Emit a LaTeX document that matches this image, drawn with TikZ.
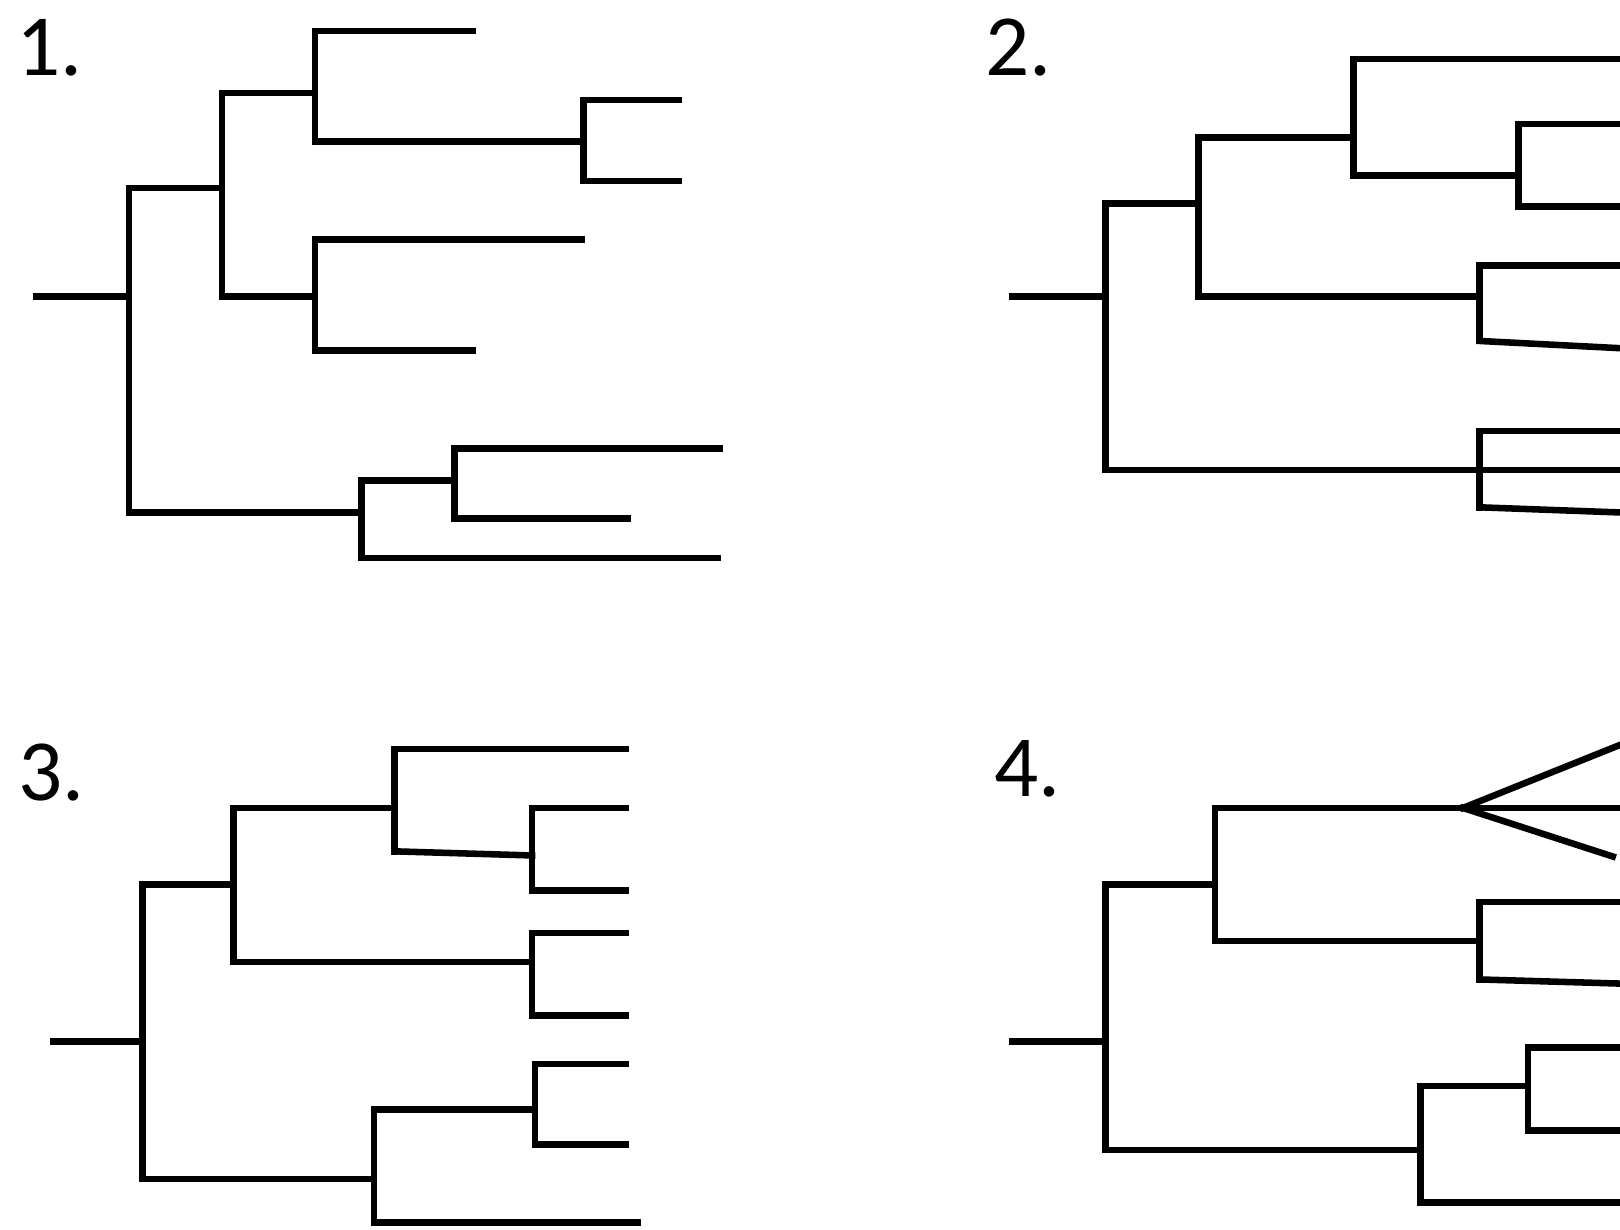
\documentclass[tikz,border=0pt]{standalone}
\usepackage{fontspec}
\setmainfont{Carlito}

\begin{document}
\begin{tikzpicture}[x=0.01cm, y=-0.01cm, branch/.style={line width=1.8pt,line cap=rect,line join=miter}, elbow/.style={to path={|- (\tikztotarget)}}, tree label/.style={anchor=base west,inner sep=0pt,font=\fontsize{24}{24}\selectfont}]
  \useasboundingbox (0,0) rectangle (1568,1190);

  % tree 1
  \node[tree label] (t1) at (15,73) {1.};
  \coordinate (s1) at (35,287);
  \coordinate (r1) at (125,287);
  \coordinate (a1) at (215,182);
  \coordinate (a2) at (305,90);
  \coordinate (a3) at (565,137);
  \coordinate (a4) at (305,287);
  \coordinate (a5) at (350,496);
  \coordinate (a6) at (440,465);
  \coordinate (l1) at (458,30);
  \coordinate (l2) at (657,97);
  \coordinate (l3) at (657,175);
  \coordinate (l4) at (563,232);
  \coordinate (l5) at (458,339);
  \coordinate (l6) at (697,434);
  \coordinate (l7) at (608,502);
  \coordinate (l8) at (695,540);
 \path[branch]
 (s1) edge (r1)
 (r1) edge[elbow] (a1)
 (r1) edge[elbow] (a5)
 (a1) edge[elbow] (a2)
 (a1) edge[elbow] (a4)
 (a2) edge[elbow] (l1)
 (a2) edge[elbow] (a3)
 (a3) edge[elbow] (l2)
 (a3) edge[elbow] (l3)
 (a4) edge[elbow] (l4)
 (a4) edge[elbow] (l5)
 (a5) edge[elbow] (a6)
 (a5) edge[elbow] (l8)
 (a6) edge[elbow] (l6)
 (a6) edge[elbow] (l7);

  % tree 2
  \node[tree label] (t2) at (953,73) {2.};
  \coordinate (s2) at (980,287);
  \coordinate (r2) at (1070,287);
  \coordinate (b1) at (1160,197);
  \coordinate (b2) at (1310,133);
  \coordinate (b3) at (1470,170);
  \coordinate (b4) at (1432,287);
  \coordinate (b4c) at (1432,330);
  \coordinate (b5) at (1432,455);
  \coordinate (b5c) at (1432,491);
  \coordinate (m1) at (1568,57);
  \coordinate (m2) at (1568,120);
  \coordinate (m3) at (1568,200);
  \coordinate (m4) at (1568,257);
  \coordinate (m5) at (1568,337);
  \coordinate (m6) at (1568,417);
  \coordinate (m7) at (1568,455);
  \coordinate (m8) at (1568,496);
 \path[branch]
 (s2) edge (r2)
 (r2) edge[elbow] (b1)
 (r2) edge[elbow] (b5)
 (b1) edge[elbow] (b2)
 (b1) edge[elbow] (b4)
 (b2) edge[elbow] (m1)
 (b2) edge[elbow] (b3)
 (b3) edge[elbow] (m2)
 (b3) edge[elbow] (m3)
 (b4) edge[elbow] (m4)
 (b4) edge (b4c)
 (b4c) edge (m5)
 (b5) edge[elbow] (m6)
 (b5) edge (m7)
 (b5) edge (b5c)
 (b5c) edge (m8);

  % tree 3
  \node[tree label] (t3) at (17,775) {3.};
  \coordinate (s3) at (52,1008);
  \coordinate (r3) at (138,1008);
  \coordinate (c1) at (226,856);
  \coordinate (c2) at (382,782);
  \coordinate (c2c) at (382,824);
  \coordinate (c3) at (515,828);
  \coordinate (c4) at (515,931);
  \coordinate (c5) at (362,1141);
  \coordinate (c6) at (518,1074);
  \coordinate (n1) at (606,725);
  \coordinate (n2) at (606,782);
  \coordinate (n3) at (606,862);
  \coordinate (n4) at (606,903);
  \coordinate (n5) at (606,983);
  \coordinate (n6) at (606,1030);
  \coordinate (n7) at (606,1108);
  \coordinate (n8) at (617,1183);
 \path[branch]
 (s3) edge (r3)
 (r3) edge[elbow] (c1)
 (r3) edge[elbow] (c5)
 (c1) edge[elbow] (c2)
 (c1) edge[elbow] (c4)
 (c2) edge[elbow] (n1)
 (c2) edge (c2c)
 (c2c) edge (c3)
 (c3) edge[elbow] (n2)
 (c3) edge[elbow] (n3)
 (c4) edge[elbow] (n4)
 (c4) edge[elbow] (n5)
 (c5) edge[elbow] (c6)
 (c5) edge[elbow] (n8)
 (c6) edge[elbow] (n6)
 (c6) edge[elbow] (n7);

  % tree 4
  \node[tree label] (t4) at (962,771) {4.};
  \coordinate (s4) at (980,1008);
  \coordinate (r4) at (1070,1008);
  \coordinate (d1) at (1176,856);
  \coordinate (d2) at (1416,782);
  \coordinate (d3) at (1432,911);
  \coordinate (d3c) at (1432,948);
  \coordinate (d4) at (1375,1113);
  \coordinate (d5) at (1479,1051);
  \coordinate (k1) at (1568,721);
  \coordinate (k2) at (1568,782);
  \coordinate (k3) at (1561,829);
  \coordinate (k4) at (1568,873);
  \coordinate (k5) at (1568,952);
  \coordinate (k6) at (1568,1014);
  \coordinate (k7) at (1568,1094);
  \coordinate (k8) at (1568,1164);
 \path[branch]
 (s4) edge (r4)
 (r4) edge[elbow] (d1)
 (r4) edge[elbow] (d4)
 (d1) edge[elbow] (d2)
 (d1) edge[elbow] (d3)
 (d2) edge (k1)
 (d2) edge (k2)
 (d2) edge (k3)
 (d3) edge[elbow] (k4)
 (d3) edge (d3c)
 (d3c) edge (k5)
 (d4) edge[elbow] (d5)
 (d4) edge[elbow] (k8)
 (d5) edge[elbow] (k6)
 (d5) edge[elbow] (k7);
\end{tikzpicture}
\end{document}
